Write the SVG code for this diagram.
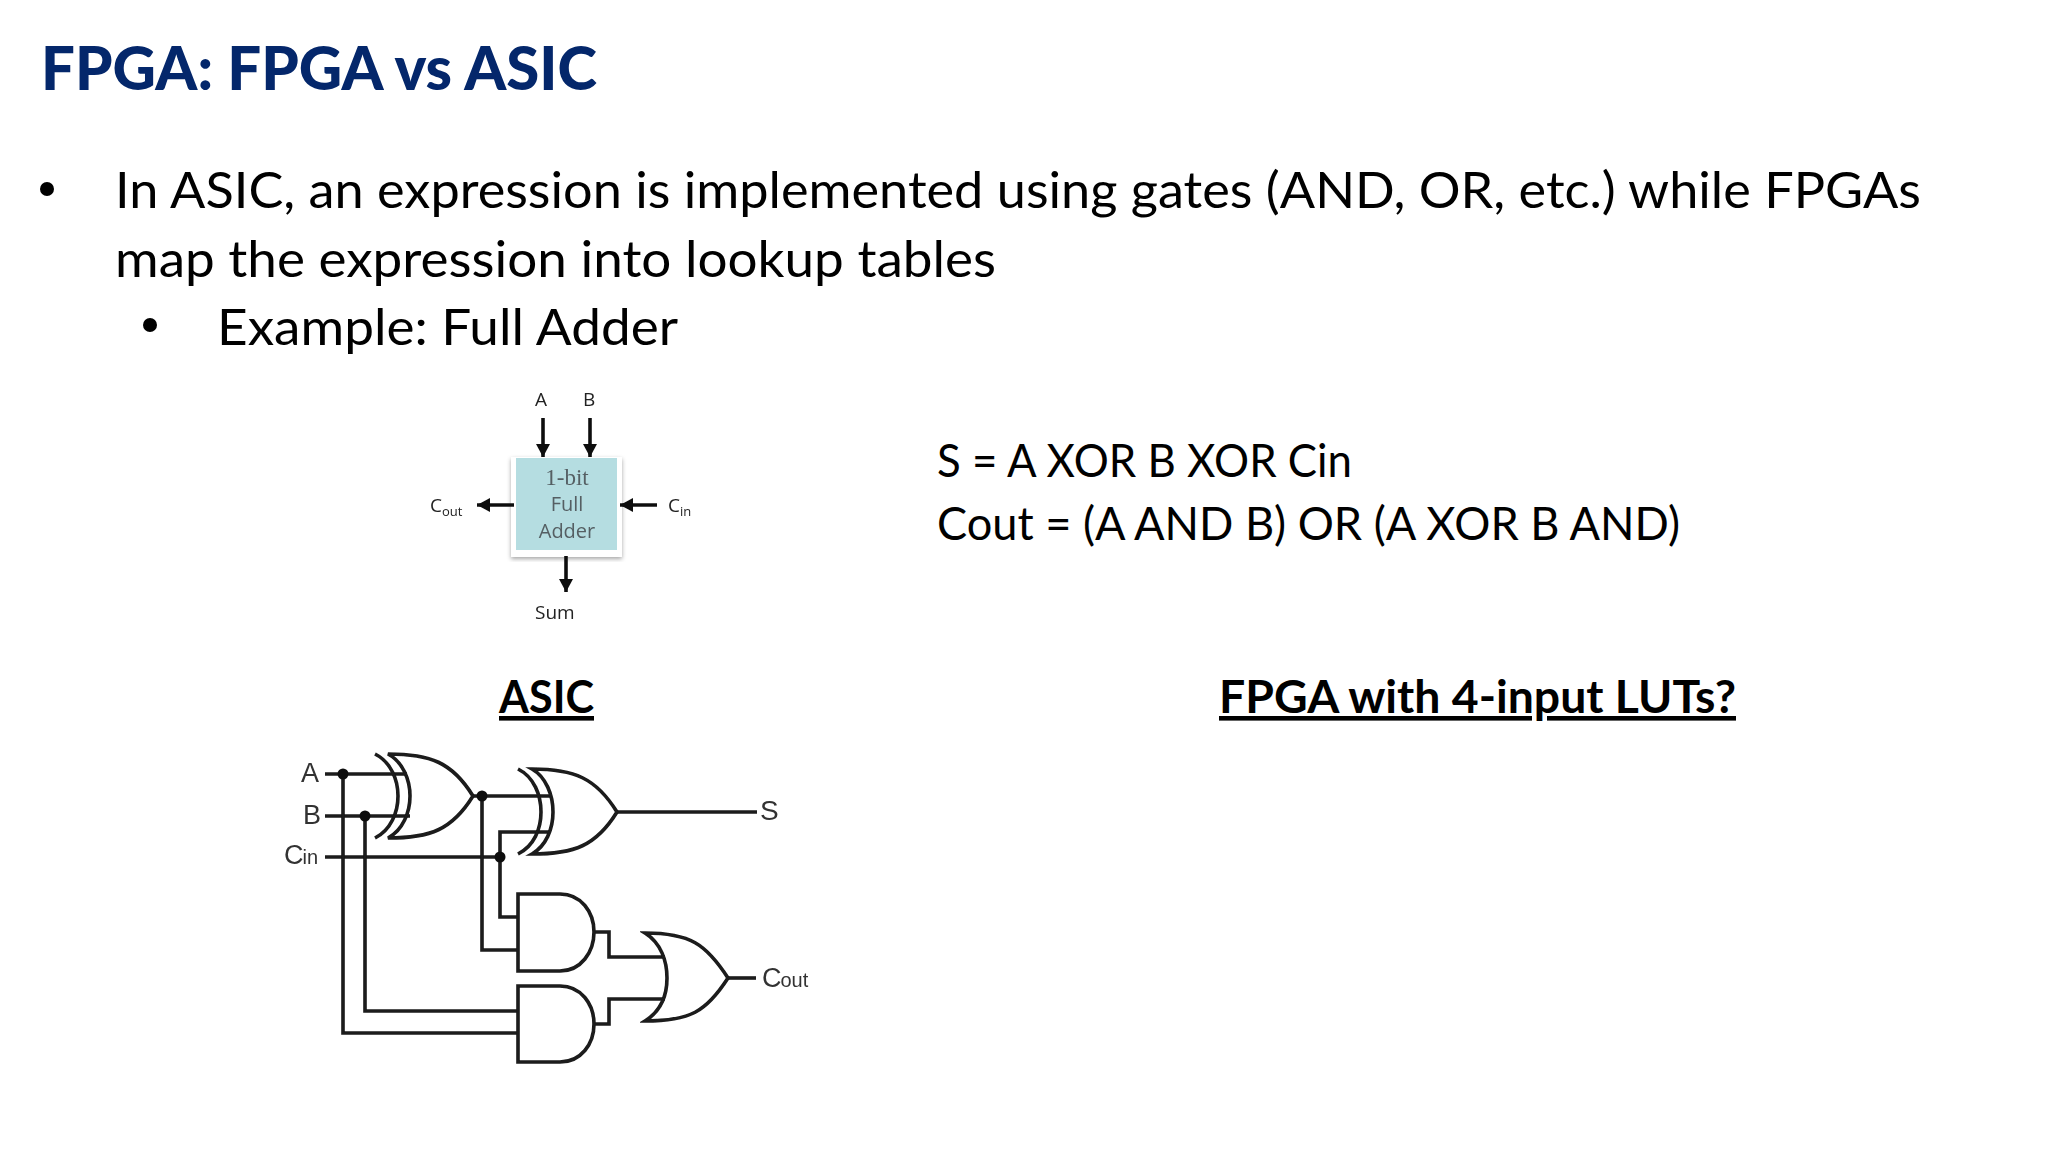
<svg xmlns="http://www.w3.org/2000/svg" width="2048" height="1152" viewBox="0 0 2048 1152">
<defs>
<marker id="ah" markerUnits="userSpaceOnUse" markerWidth="14" markerHeight="14" refX="13" refY="7" orient="auto"><path d="M0 0L13 7L0 14Z" fill="#111"/></marker>
<filter id="sh" x="-10%" y="-10%" width="120%" height="120%"><feDropShadow dx="0" dy="2" stdDeviation="2" flood-color="#000" flood-opacity="0.35"/></filter>
<filter id="soft" x="-5%" y="-5%" width="110%" height="110%"><feGaussianBlur stdDeviation="0.6"/></filter>
</defs>
<style>
.t{font-family:"Lato","Carlito","Open Sans",sans-serif;fill:#000}
.title{font-size:60px;font-weight:900;fill:#04276b}
.body{font-size:50px}
.eq{font-size:46px}
.head{font-size:46px;font-weight:700;text-decoration:underline}
.lab{font-family:"Open Sans","DejaVu Sans",sans-serif;font-size:19px;fill:#222}
.sub{font-size:13px}
.ins{font-family:"Liberation Serif",serif;font-size:23px;fill:#555f63}
.ins2{font-family:"Open Sans",sans-serif;font-size:20px;fill:#555f63}
.g{font-family:"Liberation Sans",Arial,sans-serif;font-size:27px;fill:#333}
.gs{font-size:20px}
.w{fill:none;stroke:#1a1a1a;stroke-width:3.6;stroke-linejoin:miter}
.a{fill:none;stroke:#111;stroke-width:3.6;marker-end:url(#ah)}
.d{fill:#111}
</style>
<rect width="2048" height="1152" fill="#fff"/>
<g id="slide-text">
<text class="t title" x="41" y="90" textLength="556" lengthAdjust="spacingAndGlyphs">FPGA: FPGA vs ASIC</text>
<circle cx="47" cy="189" r="7" fill="#000"/>
<text class="t body" x="115" y="208" textLength="1806" lengthAdjust="spacingAndGlyphs">In ASIC, an expression is implemented using gates (AND, OR, etc.) while FPGAs</text>
<text class="t body" x="115" y="277" textLength="881" lengthAdjust="spacingAndGlyphs">map the expression into lookup tables</text>
<circle cx="150" cy="325" r="7" fill="#000"/>
<text class="t body" x="217" y="345" textLength="461" lengthAdjust="spacingAndGlyphs">Example: Full Adder</text>
<text class="t eq" x="937" y="477" textLength="415" lengthAdjust="spacingAndGlyphs">S = A XOR B XOR Cin</text>
<text class="t eq" x="937" y="540" textLength="743" lengthAdjust="spacingAndGlyphs">Cout = (A AND B) OR (A XOR B AND)</text>
<text class="t head" x="499" y="713" textLength="95" lengthAdjust="spacingAndGlyphs">ASIC</text>
<text class="t head" x="1219" y="713" textLength="517" lengthAdjust="spacingAndGlyphs">FPGA with 4-input LUTs?</text>
</g>
<g id="adder-block" filter="url(#soft)">
<rect x="511" y="457" width="111" height="100" fill="#fff" filter="url(#sh)"/>
<rect x="516" y="458" width="101" height="92" fill="#b5dde1"/>
<text class="ins" x="567" y="485" text-anchor="middle">1-bit</text>
<text class="ins2" x="567" y="511" text-anchor="middle">Full</text>
<text class="ins2" x="567" y="538" text-anchor="middle">Adder</text>
</g>
<g id="adder-labels" filter="url(#soft)">
<text class="lab" x="535" y="406">A</text>
<text class="lab" x="583" y="406">B</text>
<text class="lab" x="430" y="512">C<tspan class="sub" dy="4">out</tspan></text>
<text class="lab" x="668" y="512">C<tspan class="sub" dy="4">in</tspan></text>
<text class="lab" x="535" y="619">Sum</text>
</g>
<g id="adder-connectors" filter="url(#soft)">
<path class="a" d="M543 418V457"/>
<path class="a" d="M590 418V457"/>
<path class="a" d="M514 505H477"/>
<path class="a" d="M657 505H620"/>
<path class="a" d="M566 556V592"/>
</g>
<g id="connectors" filter="url(#soft)">
<path class="w" d="M325 774H407"/>
<path class="w" d="M325 816H410"/>
<path class="w" d="M325 857H500"/>
<path class="w" d="M343 774V1033H518"/>
<path class="w" d="M365 816V1011H518"/>
<path class="w" d="M473 796H550"/>
<path class="w" d="M482 796V950H518"/>
<path class="w" d="M550 832H500V917H518"/>
<path class="w" d="M617 812H757"/>
<path class="w" d="M594 932H609V957H665"/>
<path class="w" d="M594 1024H609V999H665"/>
<path class="w" d="M728 978H756"/>
<circle class="d" cx="343" cy="774" r="5.5"/>
<circle class="d" cx="365" cy="816" r="5.5"/>
<circle class="d" cx="482" cy="796" r="5.5"/>
<circle class="d" cx="500" cy="857" r="5.5"/>
</g>
<g id="xor1" filter="url(#soft)">
<path class="w" d="M375 754C391 762 398 780 398 796S391 830 375 838"/>
<path class="w" d="M388 754C403 762 410 780 410 796S403 830 388 838C430 838 452 830 473 796C452 762 430 754 388 754Z"/>
</g>
<g id="xor2" filter="url(#soft)">
<path class="w" d="M518 769C534 777 541 795 541 812S534 846 518 854"/>
<path class="w" d="M532 769C546 777 553 795 553 812S546 846 532 854C574 854 596 846 617 812C596 778 574 769 532 769Z"/>
</g>
<g id="and1" filter="url(#soft)"><path class="w" d="M518 894H560C581 894 594 912 594 932C594 952 581 971 560 971H518Z"/></g>
<g id="and2" filter="url(#soft)"><path class="w" d="M518 986H560C581 986 594 1004 594 1024C594 1044 581 1062 560 1062H518Z"/></g>
<g id="or1" filter="url(#soft)"><path class="w" d="M645 933C661 943 667 961 667 978S661 1011 645 1021C690 1021 706 1012 728 978C706 944 690 933 645 933Z"/></g>
<g id="gate-labels" filter="url(#soft)">
<text class="g" x="301" y="782">A</text>
<text class="g" x="303" y="824">B</text>
<text class="g" x="284" y="864">C<tspan class="gs" dx="-1">in</tspan></text>
<text class="g" x="760" y="820" style="font-size:28px">S</text>
<text class="g" x="762" y="987">C<tspan class="gs" dx="-1">out</tspan></text>
</g>
</svg>
